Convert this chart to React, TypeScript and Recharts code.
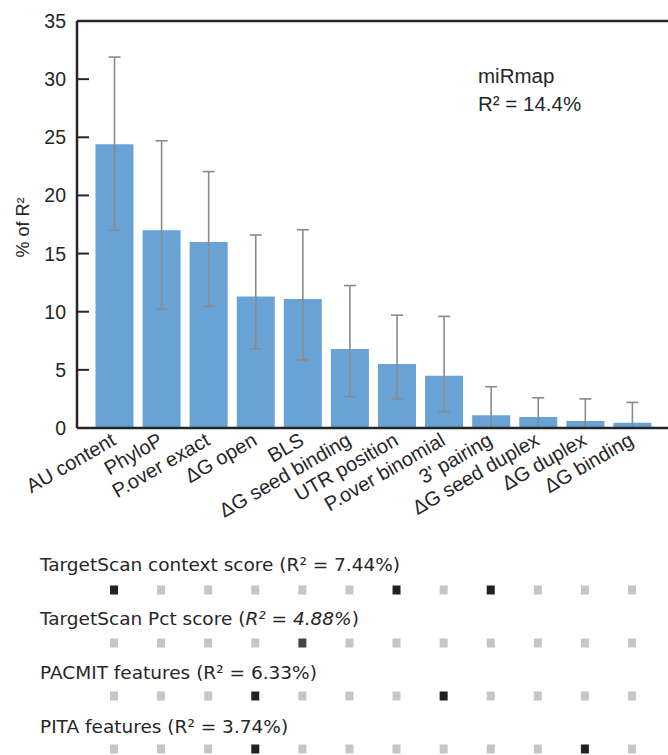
import React from 'react';
import { ComposedChart, Bar, ErrorBar, XAxis, YAxis, ReferenceLine, Scatter } from 'recharts';

// ---- data ----
const features = [
  'AU content', 'PhyloP', 'P.over exact', 'ΔG open', 'BLS', 'ΔG seed binding',
  'UTR position', 'P.over binomial', "3' pairing", 'ΔG seed duplex', 'ΔG duplex', 'ΔG binding',
];
const shareOfR2 = [24.4, 17.0, 16.0, 11.3, 11.1, 6.8, 5.5, 4.5, 1.1, 0.95, 0.6, 0.45];
const ciLower = [17.0, 10.2, 10.45, 6.8, 5.85, 2.7, 2.5, 1.4, 0, 0, 0, 0];
const ciUpper = [31.9, 24.7, 22.05, 16.6, 17.05, 12.25, 9.7, 9.6, 3.55, 2.6, 2.5, 2.2];
const yTicks = [0, 5, 10, 15, 20, 25, 30, 35];

const methodNames = ['TargetScan context score', 'TargetScan Pct score', 'PACMIT features', 'PITA features'];
const methodR2 = ['7.44%', '4.88%', '6.33%', '3.74%'];
const tsContextSel = [1, 0, 0, 0, 0, 0, 1, 0, 1, 0, 0, 0];
const tsPctSel = [0, 0, 0, 0, 1, 0, 0, 0, 0, 0, 0, 0];
const pacmitSel = [0, 0, 0, 1, 0, 0, 0, 1, 0, 0, 0, 0];
const pitaSel = [0, 0, 0, 1, 0, 0, 0, 0, 0, 0, 1, 0];
const selections = [tsContextSel, tsPctSel, pacmitSel, pitaSel];

const barData = features.map((f, i) => ({
  feature: f,
  share: shareOfR2[i],
  err: [shareOfR2[i] - ciLower[i], ciUpper[i] - shareOfR2[i]],
}));

const matrixData = features.map((f, i) => {
  const o: any = { feature: f };
  selections.forEach((s, r) => {
    o['r' + r] = r;
    o['s' + r] = s[i];
  });
  return o;
});

const SANS = '"Liberation Sans", Arial, Helvetica, sans-serif';
const DEJAVU = '"DejaVu Sans", sans-serif';
const INK = '#262626';
const selColors = ['#222222', '#454545', '#222222', '#222222'];
const TICK_MARGIN = 11;

const XTick = (props: any) => {
  const { x, y, payload } = props;
  const ax = x + 3;
  const ay = y + 16;
  return (
    <text
      x={ax}
      y={ay}
      transform={`rotate(-30, ${ax}, ${ay})`}
      textAnchor="end"
      fontSize={20}
      fontFamily={SANS}
      fill={INK}
    >
      {payload.value}
    </text>
  );
};

const YTick = (props: any) => {
  const { x, y, payload } = props;
  const axisX = x + TICK_MARGIN;
  return (
    <g>
      <line x1={axisX} x2={axisX + 12} y1={y} y2={y} stroke={INK} strokeWidth={2} />
      <text x={x} y={y} dy="0.36em" textAnchor="end" fontSize={19.5} fontFamily={SANS} fill={INK}>
        {payload.value}
      </text>
    </g>
  );
};

const YLabel = (props: any) => {
  const vb = props.viewBox || { x: 0, y: 21, width: 77, height: 407 };
  const cx = 29;
  const cy = vb.y + vb.height / 2 + 3;
  return (
    <text x={cx} y={cy} transform={`rotate(-90, ${cx}, ${cy})`} textAnchor="middle" fontSize={18} fontFamily={SANS} fill={INK}>
      % of R²
    </text>
  );
};

const makeSquare = (row: number) => (props: any) => {
  const { cx, cy, payload } = props;
  if (cx == null || cy == null) return <g />;
  const sel = payload['s' + row];
  return <rect x={cx - 4} y={cy - 4.5} width={8} height={9} fill={sel ? selColors[row] : '#c6c6c6'} />;
};

export default function App() {
  return (
    <div style={{ position: 'absolute', left: 0, top: 0, width: 668, height: 755, overflow: 'hidden', background: '#fff' }}>
      <div style={{ position: 'absolute', left: 0, top: 0 }}>
        <ComposedChart width={680} height={540} data={barData} margin={{ top: 21, right: 10, bottom: 0, left: 0 }}>
          <XAxis
            dataKey="feature"
            type="category"
            interval={0}
            padding={{ left: 13.5, right: 14.5 }}
            height={112}
            tickLine={false}
            tickSize={0}
            tickMargin={0}
            axisLine={{ stroke: INK, strokeWidth: 2.5 }}
            tick={<XTick />}
          />
          <YAxis
            yAxisId="L"
            orientation="left"
            width={77}
            domain={[0, 35]}
            ticks={yTicks}
            interval={0}
            tickLine={false}
            tickSize={0}
            tickMargin={TICK_MARGIN}
            axisLine={{ stroke: INK, strokeWidth: 2.5 }}
            tick={<YTick />}
            label={<YLabel />}
          />
          <YAxis
            yAxisId="R"
            orientation="right"
            mirror
            domain={[0, 35]}
            ticks={yTicks}
            interval={0}
            tick={false}
            tickSize={12}
            axisLine={{ stroke: INK, strokeWidth: 2.5 }}
            tickLine={{ stroke: INK, strokeWidth: 2 }}
          />
          <ReferenceLine yAxisId="L" y={35} stroke={INK} strokeWidth={2.5} />
          <Bar yAxisId="L" dataKey="share" fill="#69a3d6" barSize={38} isAnimationActive={false}>
            <ErrorBar dataKey="err" direction="y" width={6} stroke="#8a8a8a" strokeWidth={1.6} />
          </Bar>
        </ComposedChart>
      </div>

      <div style={{ position: 'absolute', left: 0, top: 540 }}>
        <ComposedChart width={680} height={215} data={matrixData} margin={{ top: 50, right: 10, bottom: 6, left: 77 }}>
          <XAxis dataKey="feature" type="category" scale="point" hide padding={{ left: 37, right: 38 }} />
          <YAxis type="number" hide domain={[0, 3]} reversed />
          {selections.map((_, r) => (
            <Scatter key={r} dataKey={'r' + r} shape={makeSquare(r)} isAnimationActive={false} />
          ))}
        </ComposedChart>
      </div>

      <svg width={668} height={755} style={{ position: 'absolute', left: 0, top: 0, pointerEvents: 'none' }}>
        <text x={478} y={83.3} fontSize={20.5} fontFamily={SANS} fill={INK}>miRmap</text>
        <text x={478} y={110.7} fontSize={20.5} fontFamily={SANS} fill={INK}>R² = 14.4%</text>
        {methodNames.map((m, r) => (
          <text key={m} x={40} y={570.7 + r * 54} fontSize={18.5} fontFamily={DEJAVU} fill={INK}>
            {m} (
            {r === 1 ? (
              <tspan fontStyle="italic">R² = {methodR2[r]}</tspan>
            ) : (
              <tspan>R² = {methodR2[r]}</tspan>
            )}
            )
          </text>
        ))}
      </svg>
    </div>
  );
}
